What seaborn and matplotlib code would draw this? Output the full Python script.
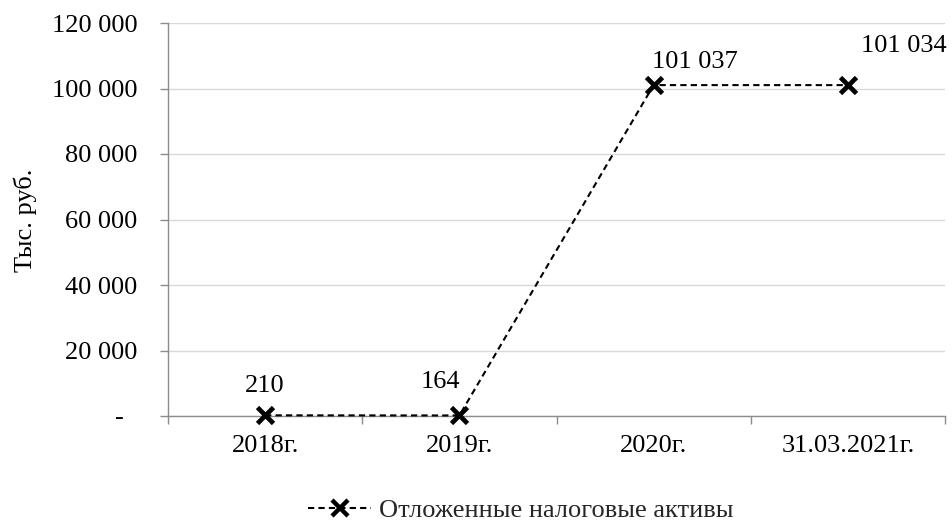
import matplotlib
matplotlib.use("Agg")
import matplotlib.pyplot as plt
from matplotlib.ticker import FixedLocator, FuncFormatter
import seaborn as sns
import pandas as pd

periods = ["2018г.", "2019г.", "2020г.", "31.03.2021г."]
deferred_tax_assets = [210, 164, 101037, 101034]
series_name = "Отложенные налоговые активы"
y_ticks = [0, 20000, 40000, 60000, 80000, 100000, 120000]

df = pd.DataFrame({"pos": range(len(periods)), "value": deferred_tax_assets,
                   "series": series_name})

sns.set_theme(style="white")
plt.rcParams["font.family"] = ["Liberation Serif", "DejaVu Serif"]
FS = 19

fig = plt.figure(figsize=(9.53, 5.22), dpi=100)
ax = fig.add_axes([168 / 953, 1 - 416 / 522, 777 / 953, 393 / 522])

sns.lineplot(data=df, x="pos", y="value", hue="series", palette=["black"],
             ax=ax, legend=False)
line = ax.lines[0]
line.set_linestyle((0, (3, 2)))
line.set_linewidth(1.5)
line.set_marker("x")
line.set_markersize(12)
line.set_markeredgewidth(3.4)
line.set_markeredgecolor("black")
line.set_clip_on(False)
line.set_zorder(5)

ax.set_xlim(-0.5, len(periods) - 0.5)
ax.set_ylim(0, 120000)
ax.yaxis.set_major_locator(FixedLocator(y_ticks))
# accounting-style labels: zero shown as a dash with trailing padding
ax.yaxis.set_major_formatter(FuncFormatter(
    lambda v, _: "-\u00a0\u00a0" if v == 0 else f"{int(v):,}".replace(",", " ")))
ax.set_xticks(range(len(periods)))
ax.set_xticklabels(periods)
ax.xaxis.set_minor_locator(FixedLocator([i - 0.5 for i in range(len(periods) + 1)]))

ax.grid(axis="y", color="#d9d9d9", linewidth=1)
ax.set_axisbelow(True)
for side in ["top", "right"]:
    ax.spines[side].set_visible(False)
for side in ["left", "bottom"]:
    ax.spines[side].set_color("#8c8c8c")
    ax.spines[side].set_linewidth(1)

ax.tick_params(axis="y", which="major", length=6, width=1, color="#8c8c8c",
               direction="out", left=True, labelsize=FS, pad=16, labelcolor="black")
ax.tick_params(axis="x", which="major", length=0, labelsize=FS, pad=14,
               labelcolor="black")
ax.tick_params(axis="x", which="minor", length=6, width=1, color="#8c8c8c",
               direction="out", bottom=True)

ax.set_xlabel("")
ax.set_ylabel("")
fig.text(25 / 953, 1 - 220 / 522, "Тыс. руб.", rotation=90, ha="center", va="center",
         fontsize=FS, color="black")

# value labels
offsets = [(0, 13), (-14, 16), (30, 9), (40, 20)]
for i, (v, off) in enumerate(zip(deferred_tax_assets, offsets)):
    ax.annotate(f"{v:,}".replace(",", " "), xy=(i, v), xytext=off,
                textcoords="offset points", ha="center", va="bottom",
                fontsize=FS, color="black", annotation_clip=False)

handle = plt.Line2D([], [], color="black", linestyle=(0, (3, 2)), linewidth=1.5,
                    marker="x", markersize=11, markeredgewidth=3.2)
fig.legend([handle], [series_name], loc="center", bbox_to_anchor=(521 / 953, 1 - 510 / 522),
           frameon=False, fontsize=FS, handlelength=2.4, handletextpad=0.3)

fig.savefig("out.png", dpi=100)
